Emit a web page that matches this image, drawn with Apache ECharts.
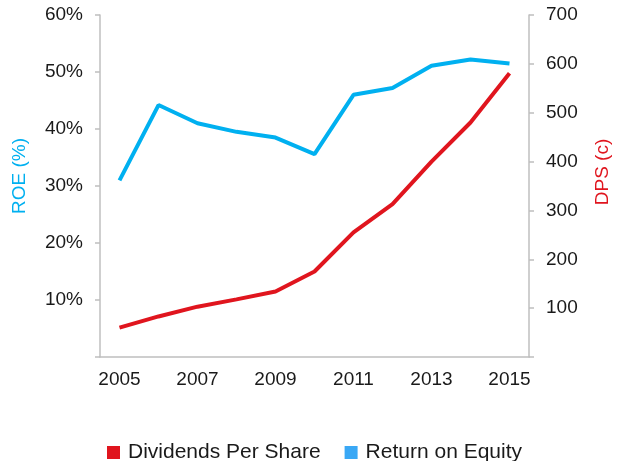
<!DOCTYPE html>
<html>
<head>
<meta charset="utf-8">
<script src="https://cdn.jsdelivr.net/npm/echarts@6/dist/echarts.min.js"></script>
<style>
html,body{margin:0;padding:0;background:#fff;}
#chart{width:622px;height:461px;}
</style>
</head>
<body>
<div id="chart"></div>
<script>
var years = ['2005','2006','2007','2008','2009','2010','2011','2012','2013','2014','2015'];
var roe = [31.0, 44.2, 41.0, 39.5, 38.5, 35.6, 46.0, 47.2, 51.1, 52.2, 51.5];
var dps = [60, 83, 103, 118, 134, 175, 255, 313, 400, 480, 581];
var roeTicks = ['', '10%', '20%', '30%', '40%', '50%', '60%'];
var dpsTicks = ['', '100', '200', '300', '400', '500', '600', '700'];

var FONT = '"Liberation Sans", Arial, sans-serif';
var BLUE = '#00B0F0';
var RED = '#E0151E';
var AXIS = '#BFBFBF';

var chart = echarts.init(document.getElementById('chart'));
chart.setOption({
  animation: false,
  textStyle: { fontFamily: FONT },
  grid: { left: 100, right: 93, top: 15, bottom: 104, containLabel: false },
  legend: {
    left: 102, top: 437,
    icon: 'rect', itemWidth: 13, itemHeight: 13, itemGap: 24,
    textStyle: { fontSize: 21, color: '#1a1a1a', fontFamily: FONT, padding: [0, 0, 0, 3] },
    data: [
      { name: 'Dividends Per Share', itemStyle: { color: '#E0151E' } },
      { name: 'Return on Equity', itemStyle: { color: '#3AA8F5' } }
    ]
  },
  xAxis: {
    type: 'category',
    data: years,
    boundaryGap: true,
    axisLine: { lineStyle: { color: AXIS, width: 1.5 } },
    axisTick: { show: false },
    axisLabel: { interval: 1, fontSize: 19, color: '#1a1a1a', margin: 13, fontFamily: FONT },
    splitLine: { show: false }
  },
  yAxis: [
    {
      type: 'value', min: 0, max: 60, interval: 10, position: 'left',
      name: 'ROE (%)', nameLocation: 'middle', nameGap: 71, nameRotate: 90,
      nameTextStyle: { color: BLUE, fontSize: 19, fontFamily: FONT, padding: [0, 0, 0, 20] },
      axisLine: { show: true, lineStyle: { color: AXIS, width: 1.5 } },
      axisTick: { show: true, length: 5, lineStyle: { color: AXIS, width: 1.5 } },
      axisLabel: { fontSize: 19, color: '#1a1a1a', margin: 17, fontFamily: FONT,
        formatter: function (v) { return roeTicks[Math.round(v / 10)]; } },
      splitLine: { show: false }
    },
    {
      type: 'value', min: 0, max: 700, interval: 100, position: 'right',
      name: 'DPS (c)', nameLocation: 'middle', nameGap: 64, nameRotate: 90,
      nameTextStyle: { color: RED, fontSize: 19, fontFamily: FONT, padding: [0, 0, 0, 28] },
      axisLine: { show: true, lineStyle: { color: AXIS, width: 1.5 } },
      axisTick: { show: true, length: 5, lineStyle: { color: AXIS, width: 1.5 } },
      axisLabel: { fontSize: 19, color: '#1a1a1a', margin: 17, fontFamily: FONT,
        formatter: function (v) { return dpsTicks[Math.round(v / 100)]; } },
      splitLine: { show: false }
    }
  ],
  series: [
    {
      name: 'Dividends Per Share', type: 'line', yAxisIndex: 1, data: dps,
      showSymbol: false, symbol: 'none',
      lineStyle: { color: RED, width: 4 }, itemStyle: { color: RED }
    },
    {
      name: 'Return on Equity', type: 'line', yAxisIndex: 0, data: roe,
      showSymbol: false, symbol: 'none',
      lineStyle: { color: BLUE, width: 4 }, itemStyle: { color: BLUE }
    }
  ]
});
</script>
</body>
</html>
